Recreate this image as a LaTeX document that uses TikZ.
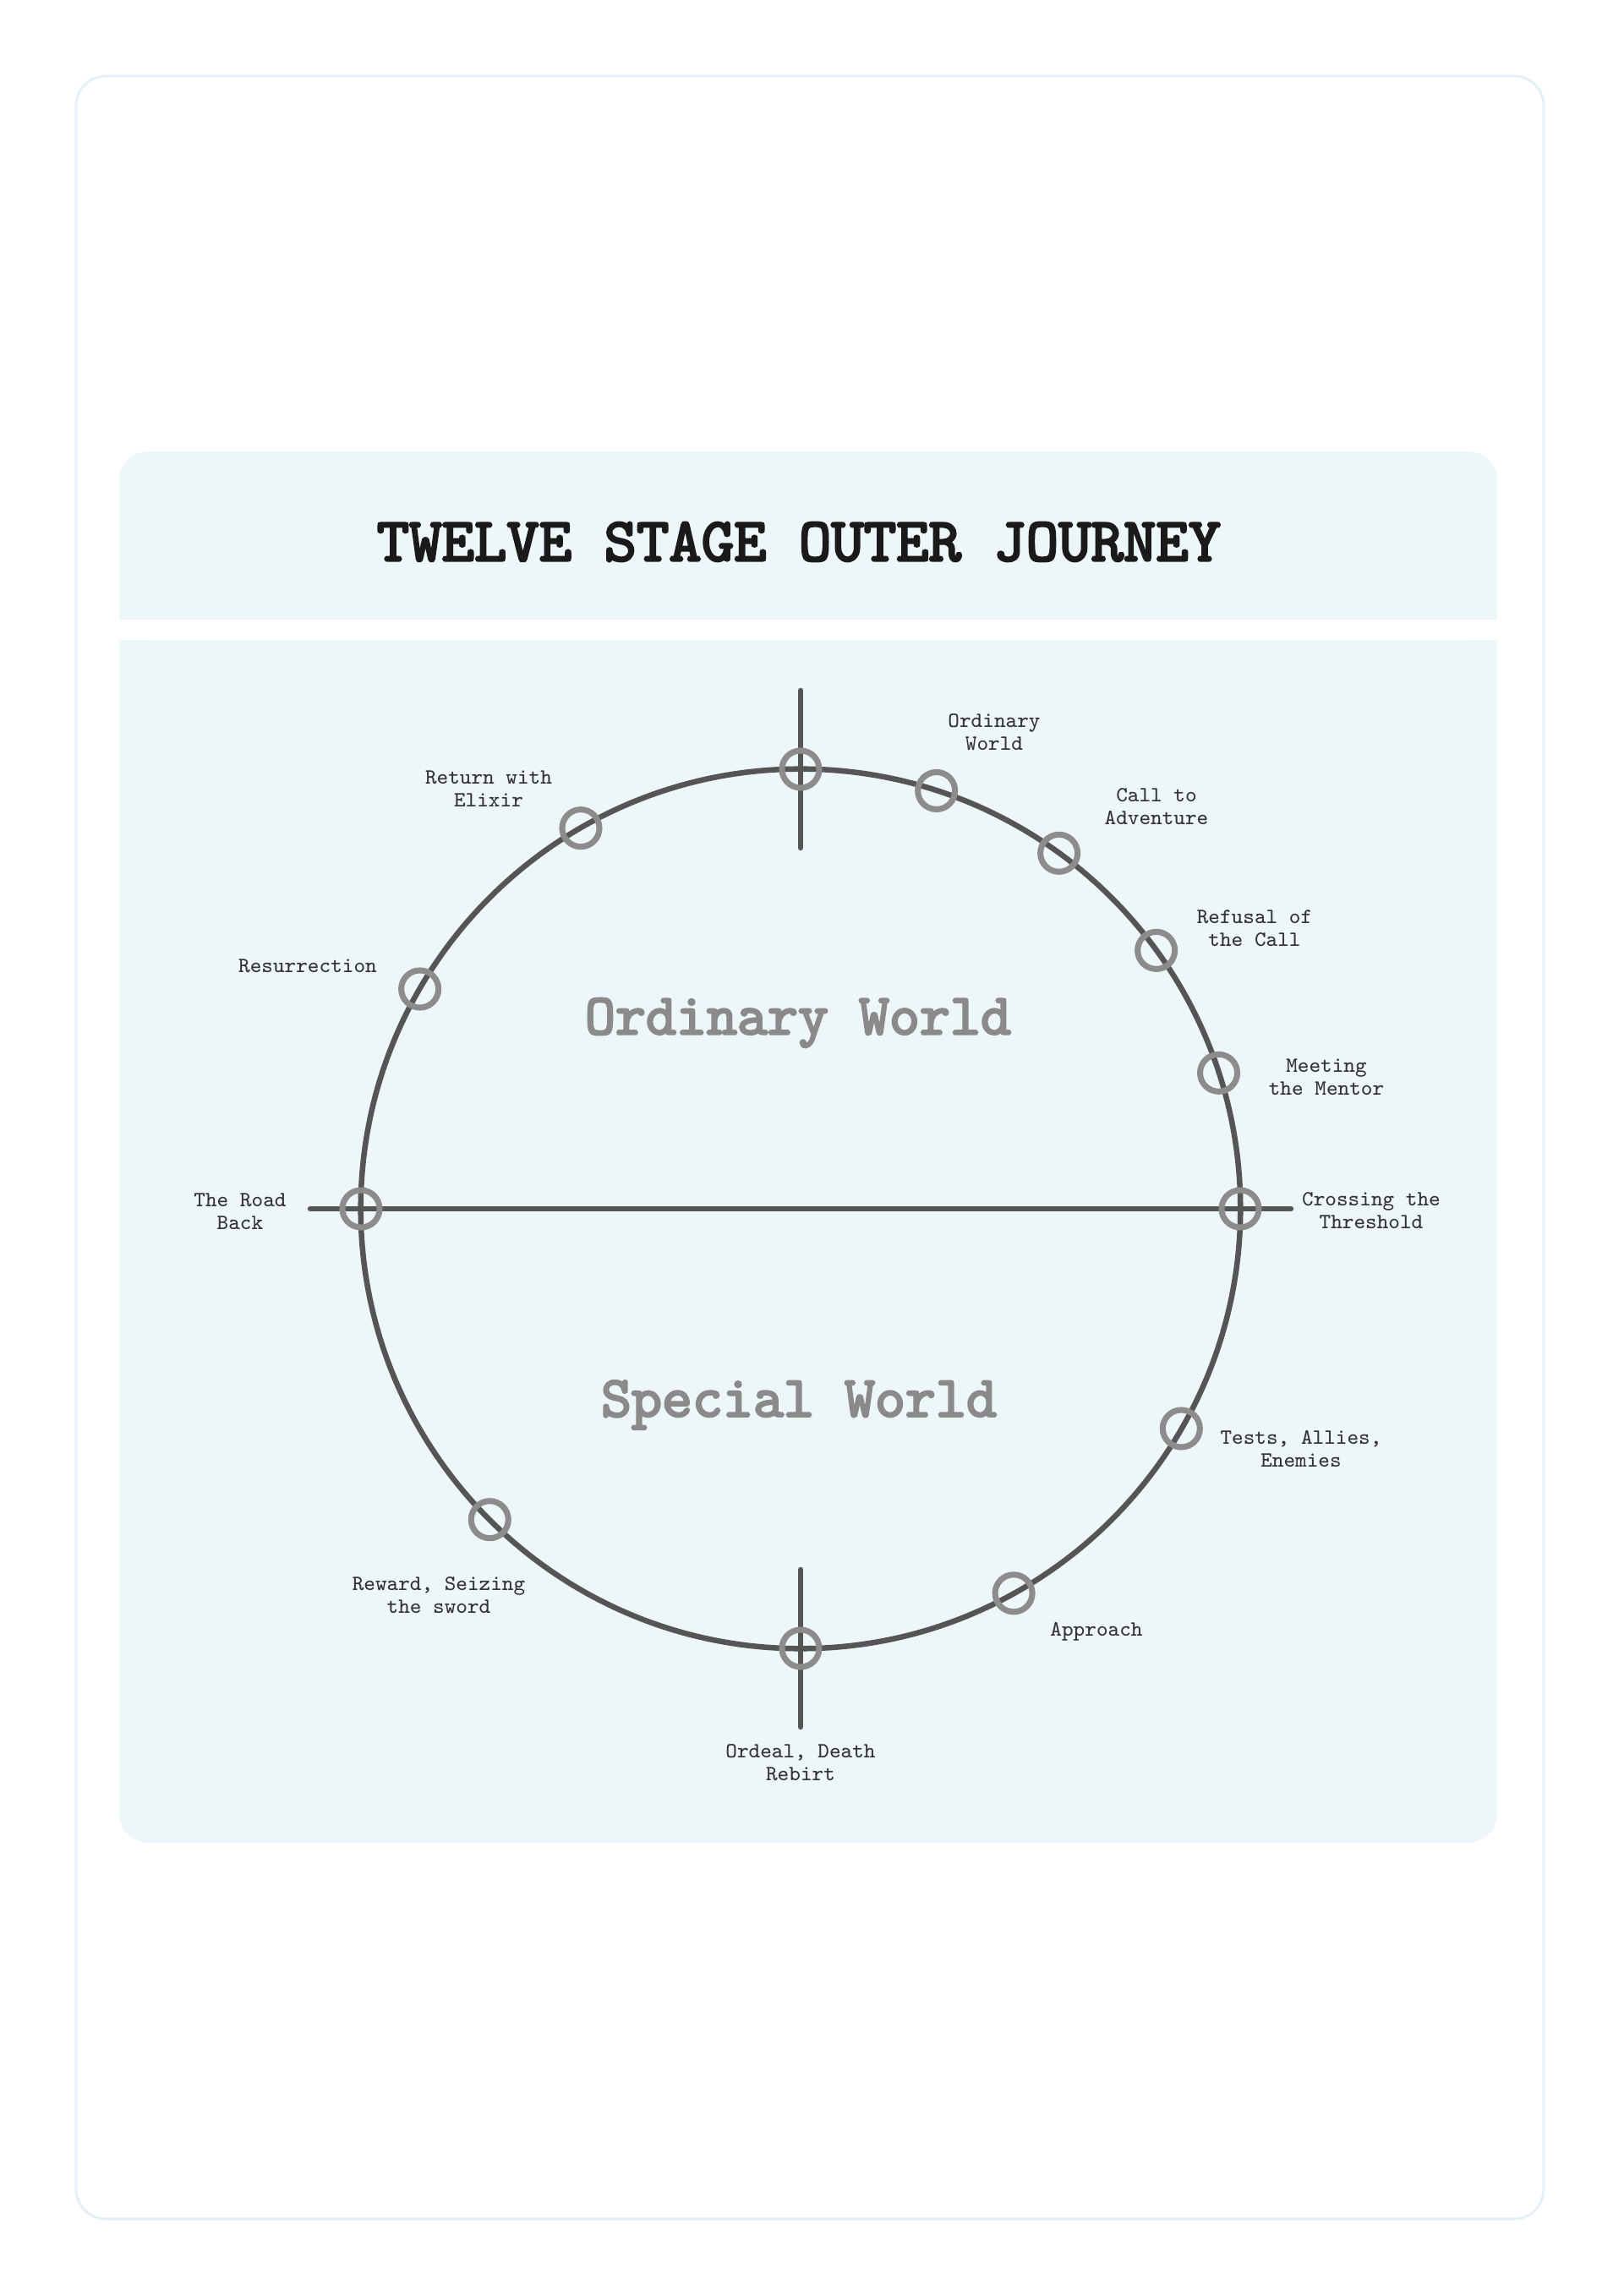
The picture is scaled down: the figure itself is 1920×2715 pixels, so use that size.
\documentclass[tikz,border=0pt]{standalone}
\usepackage{fontspec}
\newfontfamily\heavymono{lmmono10-regular.otf}[FakeBold=3.5]
\definecolor{framecyan}{HTML}{E4F2F6}
\definecolor{panelblue}{HTML}{EDF6F9}
\definecolor{wheelgray}{HTML}{555555}
\definecolor{ringgray}{HTML}{8C8C8C}
\definecolor{worldgray}{HTML}{8A8A8A}
\definecolor{labelink}{HTML}{333333}
\definecolor{titleink}{HTML}{1A1A1A}
\usetikzlibrary{positioning}

\begin{document}
\begin{tikzpicture}[
  x=0.01cm, y=0.01cm,
  stagept/.style={circle, draw=ringgray, line width=2pt, minimum size=0.44cm, inner sep=0pt},
  stagelbl/.style={align=center, text=labelink, font=\ttfamily\fontsize{7.3}{7.7}\selectfont},
  world/.style={text=worldgray, font=\heavymono\fontsize{19.5}{22}\selectfont},
  spoke/.style={draw=wheelgray, line width=1.85pt, line cap=round},
]
\useasboundingbox (-947,-1285) rectangle (973,1430);
\draw[framecyan, line width=0.9pt, rounded corners=0.35cm] (-857,-1195) rectangle (879,1340);
\fill[panelblue, rounded corners=0.34cm] (-806,697) rectangle (824,896);
\fill[panelblue] (-806,697) rectangle (824,800);
\fill[panelblue, rounded corners=0.35cm] (-806,-750) rectangle (824,673);
\fill[panelblue] (-806,-600) rectangle (824,673);

\node[font=\heavymono\fontsize{20.8}{24}\selectfont, text=titleink] (title) at (-2,789) {TWELVE STAGE OUTER JOURNEY};

\node[circle, draw=wheelgray, line width=1.85pt, minimum size=10.4cm, inner sep=0pt] (wheel) at (0,0) {};
\coordinate (topA) at (0,613);
\coordinate (topB) at (0,427);
\coordinate (botA) at (0,-427);
\coordinate (botB) at (0,-613);
\coordinate (westEnd) at (-580,0);
\coordinate (eastEnd) at (580,0);
\draw[spoke] (topA) -- (topB);
\draw[spoke] (botA) -- (botB);
\draw[spoke] (westEnd) -- (eastEnd);

\node[world] (ordinary) at (-3,220) {Ordinary World};
\node[world] (special) at (-2,-232) {Special World};

\foreach \a/\n in {90/s0, 72/s1, 54/s2, 36/s3, 18/s4, 0/s5, -30/s6, -61/s7, -90/s8, -135/s9, 180/s10, 150/s11, 120/s12}
  \node[stagept] (\n) at (\a:520) {};

\node[stagelbl] (l1) at (229,564) {Ordinary\\World};
\node[stagelbl] (l2) at (421,476) {Call to\\Adventure};
\node[stagelbl] (l3) at (537,332) {Refusal of\\ the Call};
\node[stagelbl] (l4) at (622,156) {Meeting\\the Mentor};
\node[stagelbl] (l5) at (675,-2) {Crossing the\\Threshold};
\node[stagelbl] (l6) at (592,-284) {Tests, Allies,\\Enemies};
\node[stagelbl] (l7) at (350,-500) {Approach};
\node[stagelbl] (l8) at (0,-655) {Ordeal, Death\\Rebirt};
\node[stagelbl] (l9) at (-428,-457) {Reward, Seizing\\the sword};
\node[stagelbl] (l10) at (-663,-3) {The Road\\Back};
\node[stagelbl] (l11) at (-583,287) {Resurrection};
\node[stagelbl] (l12) at (-369,497) {Return with\\Elixir};
\end{tikzpicture}
\end{document}
